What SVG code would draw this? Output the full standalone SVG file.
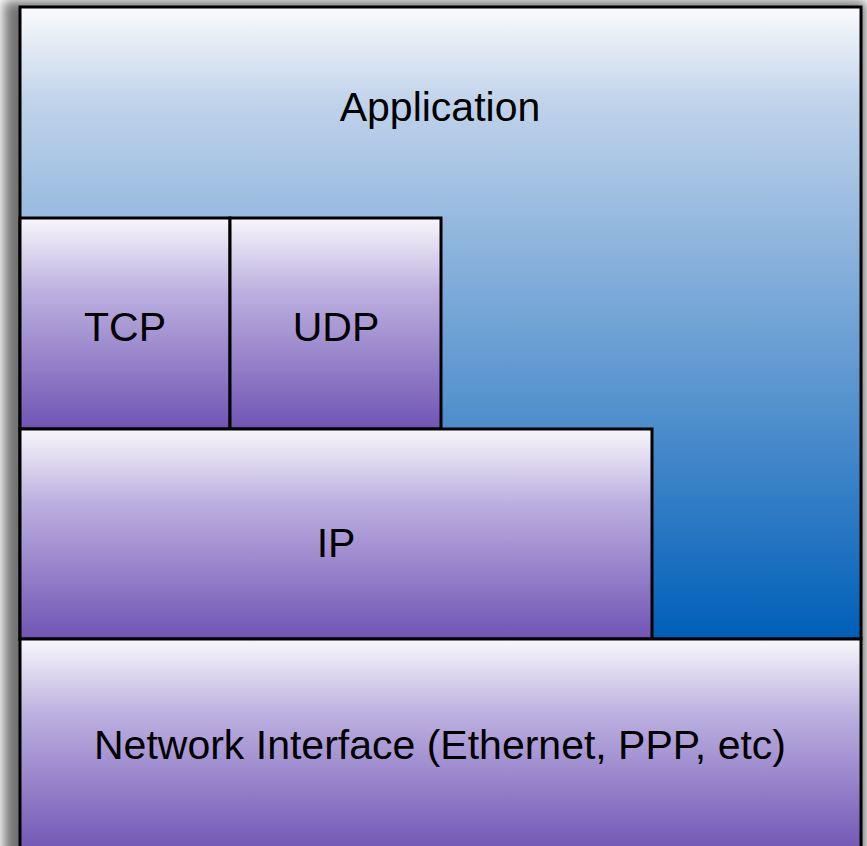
<svg xmlns="http://www.w3.org/2000/svg" width="867" height="846" viewBox="0 0 867 846">
  <defs>
    <linearGradient id="gApp" x1="0" y1="0" x2="0" y2="1">
      <stop offset="0" stop-color="#fafbfd"/>
      <stop offset="0.15" stop-color="#c0d3ea"/>
      <stop offset="1" stop-color="#005fb8"/>
    </linearGradient>
    <linearGradient id="gPur" x1="0" y1="0" x2="0" y2="1">
      <stop offset="0" stop-color="#f8f7fb"/>
      <stop offset="0.35" stop-color="#bcb0df"/>
      <stop offset="1" stop-color="#7054b5"/>
    </linearGradient>
    <filter id="shadow" x="-5%" y="-5%" width="110%" height="110%">
      <feGaussianBlur stdDeviation="6"/>
    </filter>
  </defs>
  <style>
    .box { stroke: #000; stroke-width: 3; }
    .app { fill: url(#gApp); }
    .pur { fill: url(#gPur); }
    text { font-family: "Liberation Sans", Arial, sans-serif; font-size: 41px; fill: #000; text-anchor: middle; }
  </style>
  <rect x="0" y="0" width="867" height="846" fill="#ffffff"/>
  <rect x="4" y="1" width="862" height="860" fill="#000" opacity="0.55" filter="url(#shadow)"/>
  <g id="application">
    <rect class="box app" x="20" y="7" width="841" height="632"/>
    <text x="440" y="121">Application</text>
  </g>
  <g id="tcp">
    <rect class="box pur" x="20" y="218" width="210" height="211"/>
    <text x="125" y="341">TCP</text>
  </g>
  <g id="udp">
    <rect class="box pur" x="230" y="218" width="211" height="211"/>
    <text x="336" y="341">UDP</text>
  </g>
  <g id="ip">
    <rect class="box pur" x="20" y="429" width="632" height="210"/>
    <text x="336" y="557">IP</text>
  </g>
  <g id="network-interface">
    <rect class="box pur" x="20" y="639" width="841" height="215"/>
    <text x="440" y="759">Network Interface (Ethernet, PPP, etc)</text>
  </g>
  <g id="connectors"/>
</svg>
